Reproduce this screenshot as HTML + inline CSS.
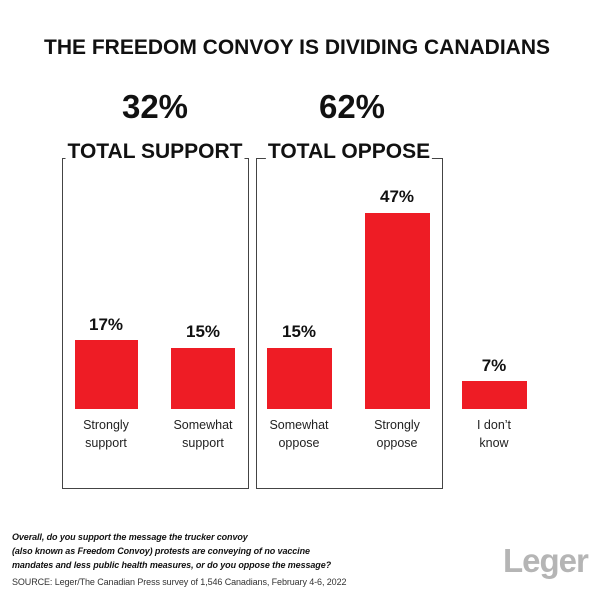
<!DOCTYPE html>
<html><head><style>
body{margin:0;width:600px;height:600px;background:#fff;position:relative;font-family:"Liberation Sans",sans-serif;overflow:hidden}
.t{position:absolute;white-space:nowrap;transform:translateX(-50%);color:#111}
.b{position:absolute;background:#ee1c25}
.box{position:absolute;border:1.5px solid #444;box-sizing:border-box}
.p{font-weight:bold;font-size:17px}
.c{font-size:12.5px;text-align:center;line-height:18px;color:#222}
</style></head><body>
<div class="t" style="left:297px;top:36px;font-size:21px;font-weight:bold">THE FREEDOM CONVOY IS DIVIDING CANADIANS</div>
<div class="t" style="left:155px;top:88px;font-size:33px;font-weight:bold">32%</div>
<div class="t" style="left:352px;top:88px;font-size:33px;font-weight:bold">62%</div>
<div class="box" style="left:62px;top:158px;width:187px;height:331px"></div>
<div class="box" style="left:256px;top:158px;width:187px;height:331px"></div>
<div class="t" style="left:155px;top:140px;font-size:21px;font-weight:bold;background:#fff;padding:0 2px">TOTAL SUPPORT</div>
<div class="t" style="left:349px;top:140px;font-size:21px;font-weight:bold;background:#fff;padding:0 2px">TOTAL OPPOSE</div>
<div class="b" style="left:75px;top:340px;width:63px;height:69px"></div>
<div class="b" style="left:171px;top:348px;width:64px;height:61px"></div>
<div class="b" style="left:267px;top:348px;width:65px;height:61px"></div>
<div class="b" style="left:365px;top:213px;width:65px;height:196px"></div>
<div class="b" style="left:462px;top:381px;width:65px;height:28px"></div>
<div class="t p" style="left:106px;top:315px">17%</div>
<div class="t p" style="left:203px;top:322px">15%</div>
<div class="t p" style="left:299px;top:322px">15%</div>
<div class="t p" style="left:397px;top:187px">47%</div>
<div class="t p" style="left:494px;top:356px">7%</div>
<div class="t c" style="left:106px;top:416px">Strongly<br>support</div>
<div class="t c" style="left:203px;top:416px">Somewhat<br>support</div>
<div class="t c" style="left:299px;top:416px">Somewhat<br>oppose</div>
<div class="t c" style="left:397px;top:416px">Strongly<br>oppose</div>
<div class="t c" style="left:494px;top:416px">I don’t<br>know</div>
<div style="position:absolute;left:12px;top:530px;font-size:9px;font-style:italic;font-weight:bold;line-height:14px;color:#111;letter-spacing:-0.1px">Overall, do you support the message the trucker convoy<br>(also known as Freedom Convoy) protests are conveying of no vaccine<br>mandates and less public health measures, or do you oppose the message?</div>
<div style="position:absolute;left:12px;top:577px;font-size:9px;color:#333;letter-spacing:-0.1px">SOURCE: Leger/The Canadian Press survey of 1,546 Canadians, February 4-6, 2022</div>
<div style="position:absolute;left:503px;top:542px;font-size:33px;font-weight:bold;color:#b5b5b5;letter-spacing:-1px">Leger</div>
</body></html>
